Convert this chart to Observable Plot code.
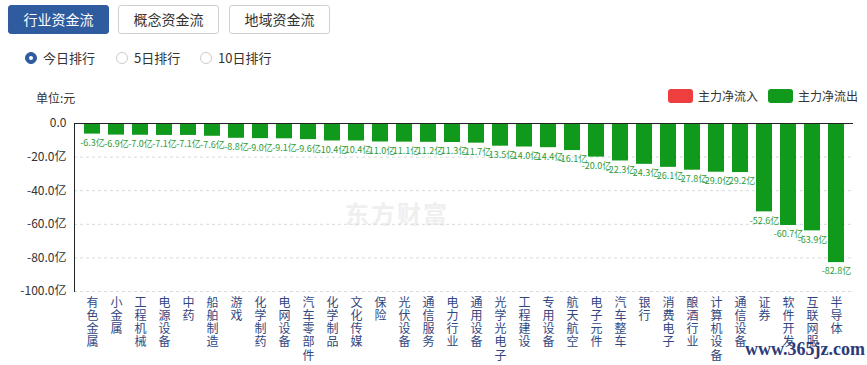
<!DOCTYPE html>
<html>
<head>
<meta charset="utf-8">
<script src="https://cdn.jsdelivr.net/npm/d3@7"></script>
<script src="https://cdn.jsdelivr.net/npm/@observablehq/plot@0.6"></script>
<style>
  html, body { margin:0; padding:0; background:#fff; }
  body { width:867px; height:365px; position:relative; overflow:hidden; font-family:"Noto Sans CJK SC","Noto Sans",sans-serif; color:#333; }
  .btn { position:absolute; top:5px; height:27px; width:99px; border:1px solid #cfcfcf; border-radius:3px; font-size:14px; line-height:27px; text-align:center; color:#333; background:#fff; }
  .btn.active { background:#2f5b9f; border-color:#2f5b9f; color:#fff; }
  .radio { position:absolute; top:50px; height:16px; font-size:13px; line-height:16px; color:#333; }
  .radio .c { position:absolute; left:0; top:2px; width:10px; height:10px; border:1px solid #ccc; border-radius:50%; box-sizing:content-box; background:#fff; }
  .radio.on .c { border:1px solid #2f5b9f; background:#2f5b9f; width:10px; height:10px; }
  .radio.on .c::after { content:""; position:absolute; left:3px; top:3px; width:4px; height:4px; border-radius:50%; background:#fff; }
  .radio span.t { position:absolute; left:18px; top:0; white-space:nowrap; }
  #unit { position:absolute; left:36px; top:89px; font-size:12px; }
  .leg { position:absolute; top:89px; font-size:12px; line-height:14px; white-space:nowrap; }
  .leg .sw { display:inline-block; width:25px; height:14px; border-radius:3px; vertical-align:top; margin-right:5px; }
  #chart { position:absolute; left:0; top:110px; }
  #wm { position:absolute; left:345px; top:195px; font-size:24px; font-weight:bold; color:#efefef; letter-spacing:2px; }
  #site { position:absolute; left:745px; top:339px; font-family:"Liberation Serif","DejaVu Serif",serif; font-size:18px; font-weight:bold; color:#2b3a7a; }
</style>
</head>
<body>
<div id="tabs"></div>
<div id="radios"></div>
<div id="unit">单位:元</div>
<div id="legend"></div>
<div id="wm">东方财富</div>
<div id="chart"></div>
<div id="site">www.365jz.com</div>
<script>
const tabs = ["行业资金流", "概念资金流", "地域资金流"];
const tabLeft = [8, 118, 229];
const radios = ["今日排行", "5日排行", "10日排行"];
const radioLeft = [25, 116, 200];
const seriesNames = ["主力净流入", "主力净流出"];
const seriesColors = ["#ef3e3e", "#10991b"];
const legendLeft = [668, 768];

const categories = ["有色金属","小金属","工程机械","电源设备","中药","船舶制造","游戏","化学制药","电网设备","汽车零部件","化学制品","文化传媒","保险","光伏设备","通信服务","电力行业","通用设备","光学光电子","工程建设","专用设备","航天航空","电子元件","汽车整车","银行","消费电子","酿酒行业","计算机设备","通信设备","证券","软件开发","互联网服","半导体"];
const values = [-6.3,-6.9,-7.0,-7.1,-7.1,-7.6,-8.8,-9.0,-9.1,-9.6,-10.4,-10.4,-11.0,-11.1,-11.2,-11.3,-11.7,-13.5,-14.0,-14.4,-16.1,-20.0,-22.3,-24.3,-26.1,-27.8,-29.0,-29.2,-52.6,-60.7,-63.9,-82.8];
const yTicks = [0, -20, -40, -60, -80, -100];

tabs.forEach((t, i) => {
  const d = document.createElement("div");
  d.className = "btn" + (i === 0 ? " active" : "");
  d.style.left = tabLeft[i] + "px";
  d.textContent = t;
  document.getElementById("tabs").appendChild(d);
});
radios.forEach((t, i) => {
  const d = document.createElement("div");
  d.className = "radio" + (i === 0 ? " on" : "");
  d.style.left = radioLeft[i] + "px";
  d.innerHTML = '<span class="c"></span><span class="t">' + t + '</span>';
  document.getElementById("radios").appendChild(d);
});
seriesNames.forEach((t, i) => {
  const d = document.createElement("div");
  d.className = "leg";
  d.style.left = legendLeft[i] + "px";
  d.innerHTML = '<span class="sw" style="background:' + seriesColors[i] + '"></span>' + t;
  document.getElementById("legend").appendChild(d);
});

const data = categories.map((c, i) => ({name: c, value: values[i]}));

const chart = Plot.plot({
  width: 867,
  height: 255,
  marginTop: 13,
  marginBottom: 74,
  marginLeft: 74,
  marginRight: 14,
  style: {fontFamily: '"Noto Sans CJK SC", sans-serif', background: "transparent"},
  x: {domain: categories, padding: 0.34},
  y: {domain: [-100, 0]},
  marks: [
    Plot.gridY(yTicks.filter(d => d < 0), {stroke: "#d9d9d9", strokeOpacity: 1, strokeDasharray: "3,3"}),
    Plot.barY(data, {x: "name", y: "value", fill: seriesColors[1]}),
    Plot.text(data, {x: "name", y: "value", text: d => d.value.toFixed(1) + "亿", dy: 9, fill: "#2e9b35", fontSize: 9}),
    Plot.ruleY([0], {stroke: "#222"}),
    Plot.axisY({ticks: yTicks, tickSize: 0, tickPadding: 8, fontSize: 12, fill: "#333", label: null,
      tickFormat: d => d === 0 ? "0.0" : d.toFixed(1) + "亿"}),
    Plot.axisX({tickSize: 0, tickPadding: 6, fontSize: 12, fill: "#31477f", label: null,
      tickFormat: d => d.split("").join("\n"), lineHeight: 1.1, lineAnchor: "top"}),
    Plot.frame({anchor: "left", stroke: "#222"})
  ]
});
document.getElementById("chart").appendChild(chart);
</script>
</body>
</html>
